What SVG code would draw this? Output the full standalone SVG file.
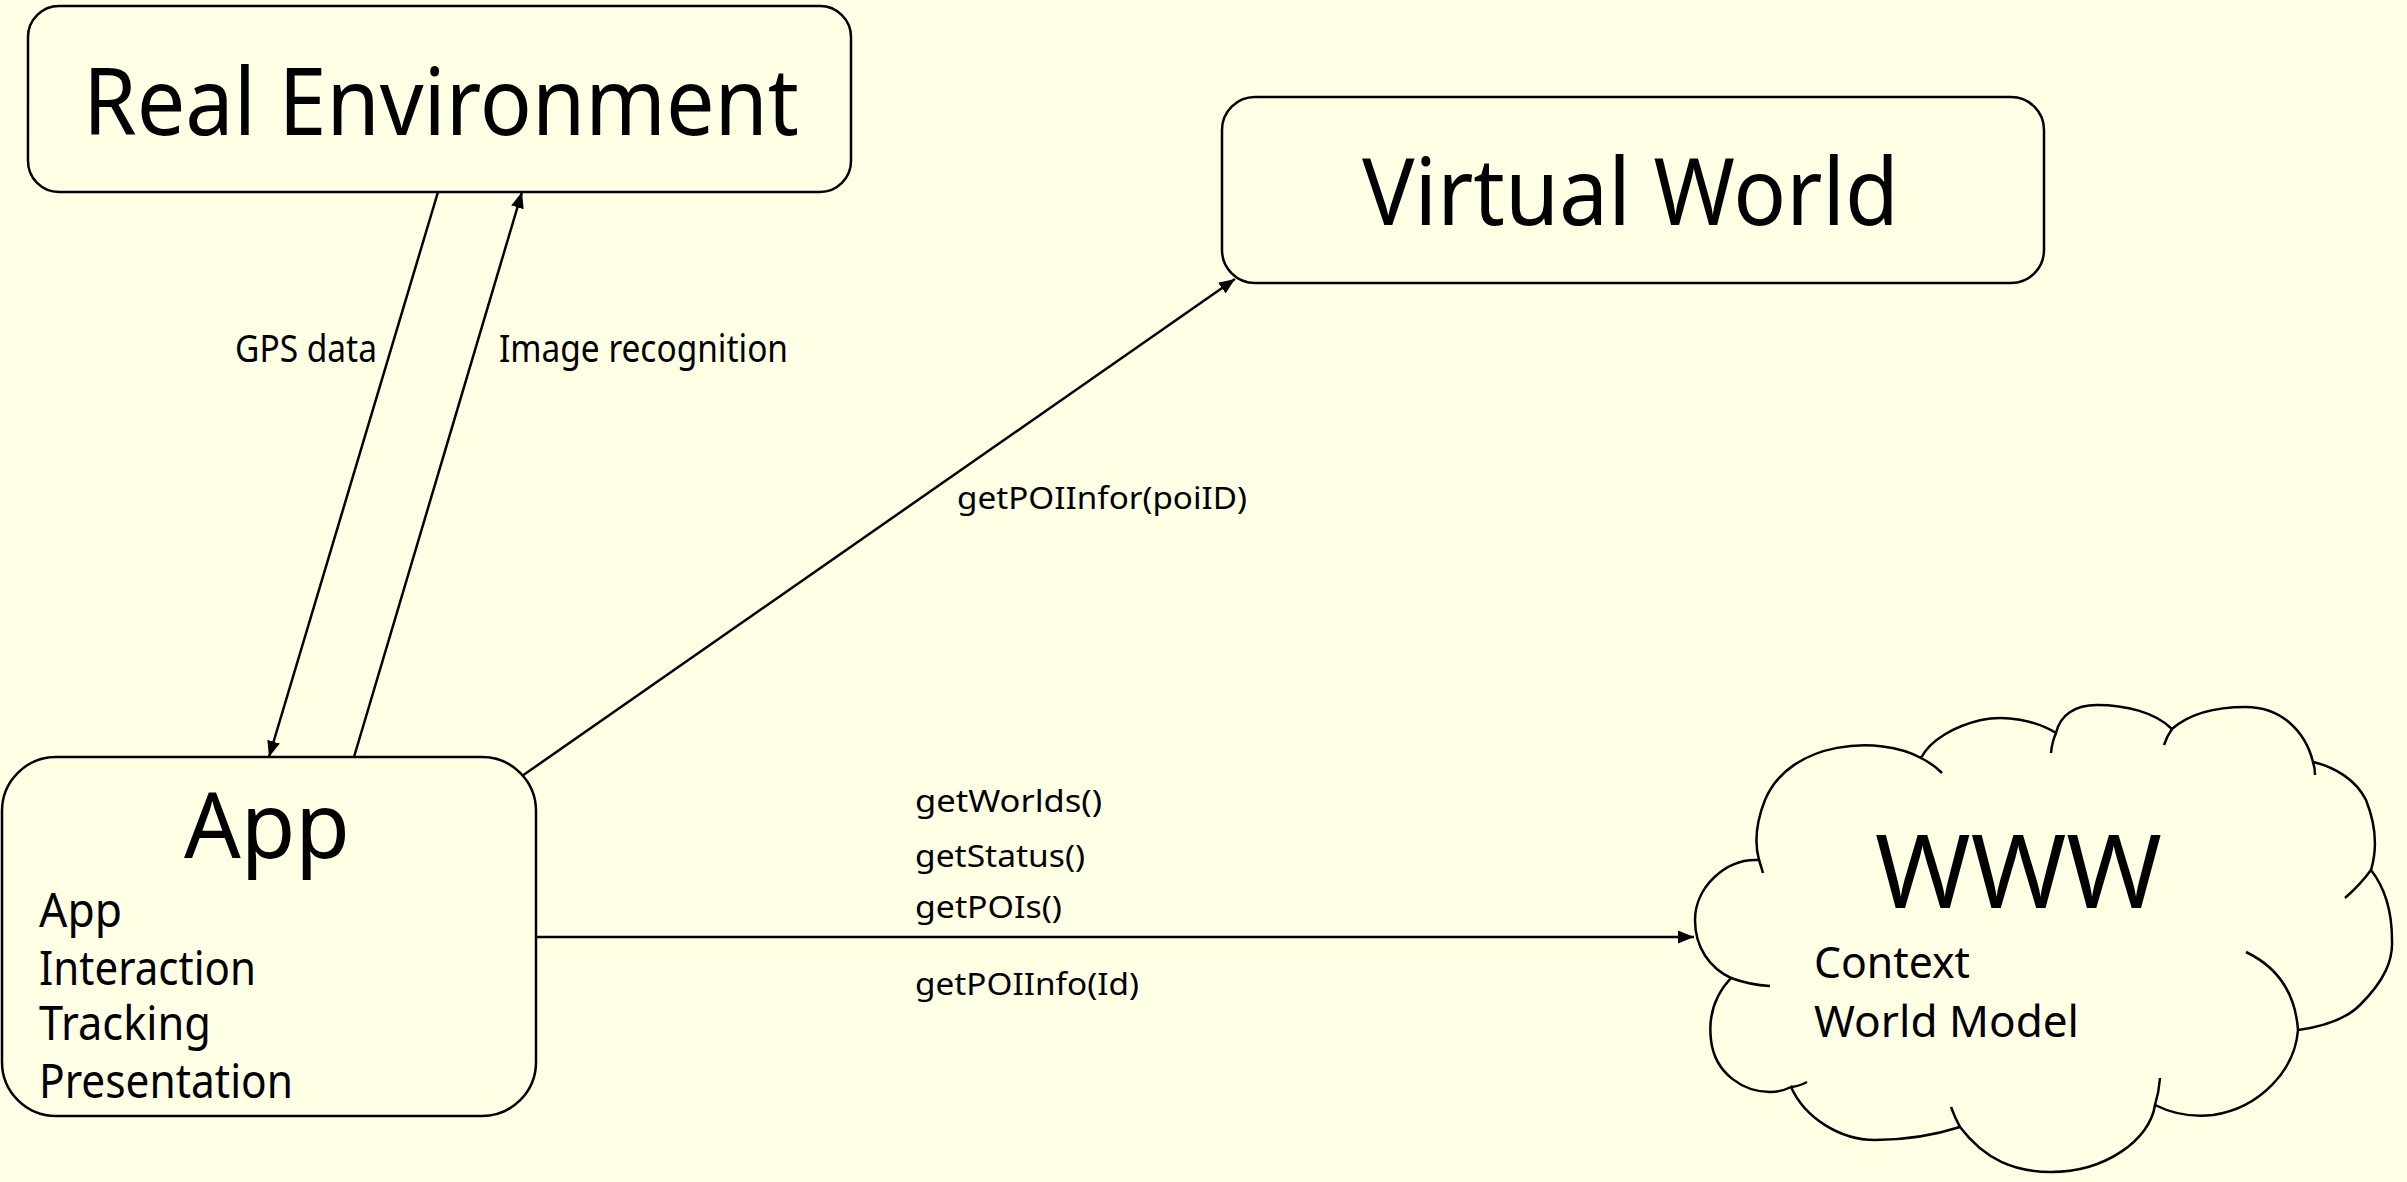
<svg xmlns="http://www.w3.org/2000/svg" width="2407" height="1182" viewBox="0 0 2407 1182">
  <style>
    .box { fill: #FFFFE5; stroke: #000; stroke-width: 2.5; }
    .seam { fill: none; stroke: #000; stroke-width: 2.5; }
    .edge { fill: none; stroke: #000; stroke-width: 2.5; }
    text { font-family: "Noto Sans", "Open Sans", "Liberation Sans", sans-serif; fill: #000; }
    .title { font-size: 94px; }
    .sub { font-size: 48px; }
    .lbl { font-size: 31px; }
    .lbl2 { font-size: 38px; }
  </style>
  <defs>
    <marker id="arrow" markerUnits="userSpaceOnUse" markerWidth="17" markerHeight="14" refX="16" refY="7" orient="auto">
      <path d="M0,0.5 L16,7 L0,13.5 Z" fill="#000"/>
    </marker>
  </defs>

  <rect x="0" y="0" width="2407" height="1182" fill="#FFFFE5"/>

  <!-- connectors -->
  <g id="connectors">
    <line class="edge" x1="438" y1="192" x2="269" y2="757" marker-end="url(#arrow)"/>
    <line class="edge" x1="354" y1="757" x2="522" y2="192" marker-end="url(#arrow)"/>
    <line class="edge" x1="522" y1="776" x2="1235" y2="279" marker-end="url(#arrow)"/>
    <line class="edge" x1="536" y1="937" x2="1694" y2="937" marker-end="url(#arrow)"/>
    <text class="lbl2" x="235" y="362" textLength="142" lengthAdjust="spacingAndGlyphs">GPS data</text>
    <text class="lbl2" x="499" y="362" textLength="289" lengthAdjust="spacingAndGlyphs">Image recognition</text>
    <text class="lbl" x="957" y="509" textLength="290" lengthAdjust="spacingAndGlyphs">getPOIInfor(poiID)</text>
    <text class="lbl" x="915" y="812" textLength="187" lengthAdjust="spacingAndGlyphs">getWorlds()</text>
    <text class="lbl" x="915" y="867" textLength="170" lengthAdjust="spacingAndGlyphs">getStatus()</text>
    <text class="lbl" x="915" y="918" textLength="147" lengthAdjust="spacingAndGlyphs">getPOIs()</text>
    <text class="lbl" x="915" y="995" textLength="224" lengthAdjust="spacingAndGlyphs">getPOIInfo(Id)</text>
  </g>

  <!-- Real Environment -->
  <g id="real-environment">
    <rect class="box" x="28" y="6" width="823" height="186" rx="31" ry="31"/>
    <text class="title" x="83" y="135" textLength="716" lengthAdjust="spacingAndGlyphs">Real Environment</text>
  </g>

  <!-- Virtual World -->
  <g id="virtual-world">
    <rect class="box" x="1222" y="97" width="822" height="186" rx="33" ry="33"/>
    <text class="title" x="1362" y="225" textLength="537" lengthAdjust="spacingAndGlyphs">Virtual World</text>
  </g>

  <!-- App -->
  <g id="app">
    <rect class="box" x="2" y="757" width="534" height="359" rx="54" ry="54"/>
    <text class="title" style="font-size:92px" x="184" y="858" textLength="166" lengthAdjust="spacingAndGlyphs">App</text>
    <text class="sub" x="39" y="927" textLength="83" lengthAdjust="spacingAndGlyphs">App</text>
    <text class="sub" x="39" y="985" textLength="217" lengthAdjust="spacingAndGlyphs">Interaction</text>
    <text class="sub" x="39" y="1040" textLength="172" lengthAdjust="spacingAndGlyphs">Tracking</text>
    <text class="sub" x="39" y="1098" textLength="254" lengthAdjust="spacingAndGlyphs">Presentation</text>
  </g>

  <!-- WWW cloud -->
  <g id="www">
    <path class="box" d="M1921,758
      C1880,735 1790,740 1765,800 C1755,825 1755,845 1759,860
      C1725,858 1695,888 1695,920 C1695,948 1710,968 1731,978
      C1715,995 1708,1015 1711,1040 C1715,1075 1745,1092 1770,1092 C1778,1092 1785,1090 1791,1087
      C1805,1118 1840,1140 1875,1140 C1905,1140 1935,1135 1960,1127
      C1985,1160 2015,1172 2051,1172 C2105,1172 2150,1140 2155,1105
      C2175,1115 2195,1117 2213,1115 C2260,1108 2295,1070 2298,1030
      C2320,1027 2345,1020 2360,1005 C2385,980 2393,960 2392,940 C2392,910 2385,888 2371,870
      C2377,850 2376,825 2366,800 C2356,780 2335,767 2313,762
      C2305,730 2280,707 2246,707 C2215,707 2190,713 2172,729
      C2155,712 2125,705 2097,705 C2075,705 2060,715 2056,733
      C2035,720 2005,715 1981,720 C1955,726 1930,740 1921,758 Z"/>
    <path class="seam" d="M1759,860 Q1761,866 1763,873"/>
    <path class="seam" d="M1731,978 Q1750,985 1770,986"/>
    <path class="seam" d="M1791,1087 Q1800,1086 1807,1082"/>
    <path class="seam" d="M1951,1107 Q1955,1118 1960,1127"/>
    <path class="seam" d="M2155,1105 Q2159,1092 2160,1078"/>
    <path class="seam" d="M2298,1030 Q2294,975 2246,952"/>
    <path class="seam" d="M2371,870 Q2360,885 2345,898"/>
    <path class="seam" d="M2313,762 Q2315,768 2315,775"/>
    <path class="seam" d="M2172,729 Q2167,736 2164,745"/>
    <path class="seam" d="M2056,733 Q2052,742 2051,753"/>
    <path class="seam" d="M1921,758 Q1933,764 1942,773"/>
    <text class="title" style="font-size:102px" x="1875" y="908" textLength="287" lengthAdjust="spacingAndGlyphs">WWW</text>
    <text class="sub" style="font-size:44px" x="1814" y="978" textLength="156" lengthAdjust="spacingAndGlyphs">Context</text>
    <text class="sub" style="font-size:44px" x="1814" y="1037" textLength="265" lengthAdjust="spacingAndGlyphs">World Model</text>
  </g>
</svg>
